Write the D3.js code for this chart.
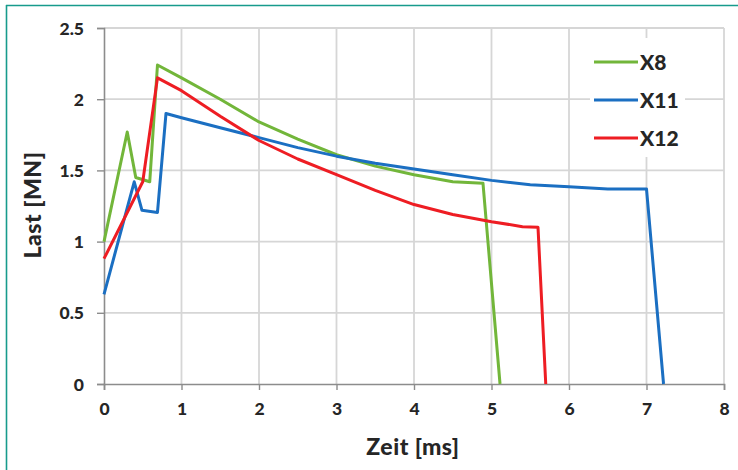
<!DOCTYPE html>
<html>
<head>
<meta charset="utf-8">
<script src="https://cdn.jsdelivr.net/npm/d3@7"></script>
<style>
  html, body { margin: 0; padding: 0; background: #fff; }
  svg { display: block; }
  text { font-family: Lato, "Open Sans", sans-serif; font-weight: 900; fill: #262626; }
</style>
</head>
<body>
<svg id="chart" width="738" height="470"></svg>
<script>
// Load curves: time in ms, load in MN
const seriesNames = ["X8", "X11", "X12"];
const seriesColors = ["#72b63a", "#1b6fc2", "#ee1d23"];

const timeX8 = [0, 0.30, 0.41, 0.59, 0.69, 1.0, 1.5, 2.0, 2.5, 3.0, 3.5, 4.0, 4.5, 4.89, 5.11];
const loadX8 = [1.00, 1.77, 1.45, 1.42, 2.24, 2.15, 2.00, 1.84, 1.72, 1.61, 1.53, 1.47, 1.42, 1.41, 0];

const timeX11 = [0, 0.39, 0.49, 0.69, 0.80, 1.0, 1.5, 2.0, 2.5, 3.0, 3.5, 4.0, 4.5, 5.0, 5.5, 6.0, 6.5, 7.0, 7.22];
const loadX11 = [0.63, 1.42, 1.22, 1.205, 1.90, 1.87, 1.80, 1.73, 1.66, 1.60, 1.55, 1.51, 1.47, 1.43, 1.40, 1.385, 1.37, 1.37, 0];

const timeX12 = [0, 0.50, 0.69, 1.0, 1.5, 2.0, 2.5, 3.0, 3.5, 4.0, 4.5, 5.0, 5.4, 5.6, 5.70];
const loadX12 = [0.88, 1.42, 2.15, 2.06, 1.88, 1.71, 1.58, 1.47, 1.36, 1.26, 1.19, 1.14, 1.105, 1.10, 0];

const xTicks = [0, 1, 2, 3, 4, 5, 6, 7, 8];
const yTicks = [0, 0.5, 1, 1.5, 2, 2.5];
const xTitle = "Zeit [ms]";
const yTitle = "Last [MN]";

const series = [
  { name: seriesNames[0], color: seriesColors[0], t: timeX8, v: loadX8 },
  { name: seriesNames[1], color: seriesColors[1], t: timeX11, v: loadX11 },
  { name: seriesNames[2], color: seriesColors[2], t: timeX12, v: loadX12 }
];

const svg = d3.select("#chart");
const W = 738, H = 470;
const plot = { left: 104, right: 724, top: 28, bottom: 384 };

const x = d3.scaleLinear().domain([0, 8]).range([plot.left, plot.right]);
const y = d3.scaleLinear().domain([0, 2.5]).range([plot.bottom, plot.top]);

// frame lines (top and left)
svg.append("line").attr("x1", 6).attr("x2", W).attr("y1", 5.5).attr("y2", 5.5)
  .attr("stroke", "#179b8c").attr("stroke-width", 1.6);
svg.append("line").attr("x1", 6.5).attr("x2", 6.5).attr("y1", 5).attr("y2", H)
  .attr("stroke", "#179b8c").attr("stroke-width", 1.6);

// grid
const grid = svg.append("g").attr("stroke", "#d6d6d6").attr("stroke-width", 1.8);
grid.selectAll(".vg").data(xTicks.filter(d => d > 0)).join("line")
  .attr("x1", d => x(d)).attr("x2", d => x(d))
  .attr("y1", plot.top).attr("y2", plot.bottom);
grid.selectAll(".hg").data(yTicks.filter(d => d > 0)).join("line")
  .attr("x1", plot.left).attr("x2", plot.right)
  .attr("y1", d => y(d)).attr("y2", d => y(d));

// axes
const xAxis = svg.append("g").attr("transform", `translate(0,${plot.bottom})`)
  .call(d3.axisBottom(x).tickValues(xTicks).tickFormat(d3.format("d")).tickSize(6).tickPadding(13));
const yAxis = svg.append("g").attr("transform", `translate(${plot.left},0)`)
  .call(d3.axisLeft(y).tickValues(yTicks).tickFormat(d => String(d)).tickSize(7).tickPadding(13));
[xAxis, yAxis].forEach(a => {
  a.select(".domain").attr("stroke", "#8c8c8c").attr("stroke-width", 1.6);
  a.selectAll(".tick line").attr("stroke", "#8c8c8c").attr("stroke-width", 1.4);
  a.selectAll(".tick text").attr("font-size", 17.5).attr("font-family", "Lato, sans-serif")
    .attr("font-weight", 900).attr("fill", "#262626");
});
yAxis.selectAll(".tick text").attr("dy", "0.35em");

// axis titles
svg.append("text").attr("x", 413).attr("y", 455).attr("text-anchor", "middle")
  .attr("font-size", 23).attr("letter-spacing", 0.5).text(xTitle);
svg.append("text").attr("transform", "translate(41,205) rotate(-90)")
  .attr("text-anchor", "middle").attr("font-size", 23).attr("letter-spacing", 0.5).text(yTitle);

// curves
const line = d3.line().x(d => x(d[0])).y(d => y(d[1]));
svg.append("g").selectAll("path").data(series).join("path")
  .attr("d", s => line(s.t.map((t, i) => [t, s.v[i]])))
  .attr("fill", "none").attr("stroke", s => s.color).attr("stroke-width", 3)
  .attr("stroke-linejoin", "round");

// legend
const lg = svg.append("g");
lg.append("rect").attr("x", 590).attr("y", 38).attr("width", 95).attr("height", 119).attr("fill", "#fff");
const items = lg.selectAll("g").data(series).join("g")
  .attr("transform", (d, i) => `translate(594,${62 + i * 38})`);
items.append("line").attr("x1", 0).attr("x2", 44).attr("stroke", d => d.color).attr("stroke-width", 3);
items.append("text").attr("x", 46).attr("dy", "0.36em").attr("font-size", 21).text(d => d.name);
</script>
</body>
</html>
